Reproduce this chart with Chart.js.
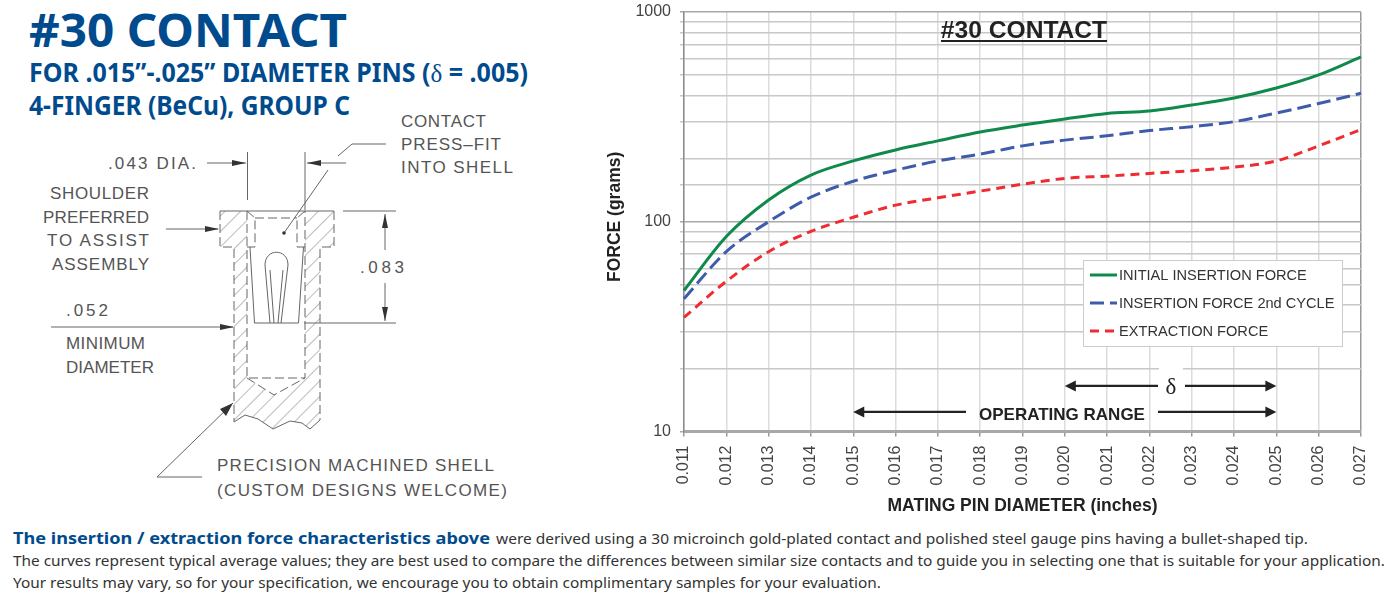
<!DOCTYPE html>
<html>
<head>
<meta charset="utf-8">
<title>#30 CONTACT</title>
<script src="https://cdn.jsdelivr.net/npm/chart.js@4"></script>
<style>
  html, body { margin: 0; padding: 0; background: #fff; }
  #page { position: relative; width: 1393px; height: 595px; overflow: hidden; }
  #art { position: absolute; left: 0; top: 0; }
  #plot { position: absolute; left: 600px; top: 0; }
  .head { font-family: "Noto Sans"; font-weight: 700; fill: #004b8d; }
  .note { font-family: "Noto Sans"; fill: #333; font-size: 15px; }
  .dim { font-family: "Liberation Sans"; fill: #555; font-size: 17px; }
  .l { fill: none; stroke: #666; stroke-width: 1; }
  .d { fill: none; stroke: #666; stroke-width: 1; stroke-dasharray: 9 4; }
  .a { fill: #333; stroke: none; }
</style>
</head>
<body>
<div id="page">
<svg id="art" width="1393" height="595" xmlns="http://www.w3.org/2000/svg">
  <defs>
    <pattern id="hatch" width="11" height="11" patternUnits="userSpaceOnUse" patternTransform="rotate(45)">
      <line x1="0" y1="0" x2="0" y2="11" stroke="#777" stroke-width="1"/>
    </pattern>
  </defs>

  <!-- heading -->
  <text class="head" x="29" y="47" font-size="46" textLength="318" lengthAdjust="spacingAndGlyphs">#30 CONTACT</text>
  <text class="head" x="29" y="82" font-size="26" textLength="499" lengthAdjust="spacingAndGlyphs">FOR .015”-.025” DIAMETER PINS (<tspan font-family="Liberation Serif" font-weight="400">δ</tspan> = .005)</text>
  <text class="head" x="29" y="115" font-size="26" textLength="321" lengthAdjust="spacingAndGlyphs">4-FINGER (BeCu), GROUP C</text>

  <!-- contact drawing -->
  <path fill="url(#hatch)" d="M220 211H247V378L274 395L305 378V211H334V247H320V420L310 429L302 423L290 421L273 429L258 419L245 415L234 422V247H220Z"/>
  <path class="l" d="M220 211H334"/>
  <path class="d" d="M220 211V247H234V422M334 211V247H320V420M247 211V378H305V211M247 378L274 395L305 378"/>
  <path class="l" d="M234 422L245 415L258 419L273 429L290 421L302 423L310 429L320 420"/>
  <path class="d" d="M255 218H297M247 211L255 218V247H247M305 211L297 218V247H305"/>
  <path class="l" d="M250 247L254.5 323H298.5L303.5 247"/>
  <path class="l" d="M270 323L265 265C265 248 288 248 288 265L281 323M274 323L270 270M278 323L283 270"/>

  <!-- dimension lines -->
  <path class="l" d="M247.5 152V200M305 152V210M207 163H246M346 163H307M386 144H352L338 156M328 170L284 233"/>
  <path class="l" d="M343 211H396M304 323H396M385 214V250M385 283V321"/>
  <path class="l" d="M166 229H218M51 327H233M202 477H157L233 403"/>
  <path class="a" d="M246 163L232 160V166ZM307 163L321 160V166ZM385 214L382 228H388ZM385 321L382 307H388ZM219 229L205 226V232ZM234 327L220 324V330ZM233 403L220 409L226 416Z"/>
  <circle class="a" cx="284" cy="233" r="1.8"/>

  <text class="dim" x="108" y="169" textLength="88">.043 DIA.</text>
  <text class="dim" x="50" y="199" textLength="99">SHOULDER</text>
  <text class="dim" x="43" y="223" textLength="106">PREFERRED</text>
  <text class="dim" x="47" y="246" textLength="102">TO ASSIST</text>
  <text class="dim" x="52" y="270" textLength="97">ASSEMBLY</text>
  <text class="dim" x="401" y="127" textLength="85">CONTACT</text>
  <text class="dim" x="401" y="150" textLength="100">PRESS–FIT</text>
  <text class="dim" x="401" y="173" textLength="112">INTO SHELL</text>
  <text class="dim" x="360" y="273" textLength="44">.083</text>
  <text class="dim" x="66" y="316" textLength="42">.052</text>
  <text class="dim" x="66" y="349" textLength="79">MINIMUM</text>
  <text class="dim" x="66" y="373" textLength="88">DIAMETER</text>
  <text class="dim" x="217" y="471" textLength="277">PRECISION MACHINED SHELL</text>
  <text class="dim" x="217" y="496" textLength="290">(CUSTOM DESIGNS WELCOME)</text>

  <!-- footnote -->
  <text class="head" x="13" y="544" font-size="16" textLength="477" lengthAdjust="spacingAndGlyphs">The insertion / extraction force characteristics above</text>
  <text class="note" x="496" y="544" textLength="812" lengthAdjust="spacingAndGlyphs">were derived using a 30 microinch gold-plated contact and polished steel gauge pins having a bullet-shaped tip.</text>
  <text class="note" x="13" y="566" textLength="1372" lengthAdjust="spacingAndGlyphs">The curves represent typical average values; they are best used to compare the differences between similar size contacts and to guide you in selecting one that is suitable for your application.</text>
  <text class="note" x="13" y="588" textLength="868" lengthAdjust="spacingAndGlyphs">Your results may vary, so for your specification, we encourage you to obtain complimentary samples for your evaluation.</text>
</svg>
<canvas id="plot" width="793" height="520"></canvas>
</div>

<script>
// * chart data
const pinDiameters = ["0.011", "0.012", "0.013", "0.014", "0.015", "0.016", "0.017", "0.018", "0.019", "0.020", "0.021", "0.022", "0.023", "0.024", "0.025", "0.026", "0.027"];
const initialInsertion = [47, 85, 127, 167, 195, 220, 243, 268, 289, 309, 328, 337, 360, 389, 434, 501, 611];
const secondCycle = [43, 72, 100, 131, 156, 176, 195, 210, 230, 245, 257, 272, 284, 300, 330, 366, 410];
const extraction = [35, 52, 72, 90, 105, 120, 130, 140, 151, 161, 165, 170, 175, 182, 195, 230, 275];
const yTickLabels = [10, 100, 1000];

const operatingRange = ["0.015", "0.025"];
const deltaRange = ["0.020", "0.025"];

const font = "Liberation Sans";

function drawArrow(ctx, from, to, y) {
  const dir = to > from ? 1 : -1;
  ctx.beginPath();
  ctx.moveTo(from, y);
  ctx.lineTo(to - dir * 8, y);
  ctx.stroke();
  ctx.beginPath();
  ctx.moveTo(to, y);
  ctx.lineTo(to - dir * 11, y - 5.5);
  ctx.lineTo(to - dir * 11, y + 5.5);
  ctx.closePath();
  ctx.fill();
}

// * title, range arrows and legend box sit inside the plot area
const notes = {
  id: "notes",
  afterDatasetsDraw(chart) {
    const { ctx, scales } = chart;
    const xOf = (label) => scales.x.getPixelForValue(pinDiameters.indexOf(label));
    ctx.save();

    // title
    const midX = 424;
    ctx.fillStyle = "#222";
    ctx.font = `bold 24.6px "${font}"`;
    ctx.textAlign = "center";
    ctx.textBaseline = "alphabetic";
    ctx.fillText("#30 CONTACT", midX, 38);
    ctx.fillRect(341, 40, 166, 2);

    // delta arrow
    ctx.strokeStyle = "#222";
    ctx.lineWidth = 2.2;
    const deltaY = scales.y.getPixelForValue(16.5);
    const deltaMid = 571;
    ctx.fillStyle = "#fff";
    ctx.fillRect(deltaMid - 12, deltaY - 20, 24, 32);
    ctx.fillStyle = "#222";
    drawArrow(ctx, deltaMid - 13, xOf(deltaRange[0]), deltaY);
    drawArrow(ctx, deltaMid + 14, xOf(deltaRange[1]), deltaY);
    ctx.font = `23px "Liberation Serif"`;
    ctx.fillText("δ", deltaMid, deltaY + 8);

    // operating range arrow
    const rangeY = scales.y.getPixelForValue(12.4);
    drawArrow(ctx, 366, xOf(operatingRange[0]), rangeY);
    drawArrow(ctx, 558, xOf(operatingRange[1]), rangeY);
    ctx.font = `bold 17px "${font}"`;
    ctx.fillText("OPERATING RANGE", 462, rangeY + 8);

    // legend
    const box = { x: 483, y: 260, w: 259, h: 86 };
    ctx.fillStyle = "#fff";
    ctx.strokeStyle = "#ccc";
    ctx.lineWidth = 1;
    ctx.fillRect(box.x, box.y, box.w, box.h);
    ctx.strokeRect(box.x + 0.5, box.y + 0.5, box.w, box.h);
    ctx.font = `14.6px "${font}"`;
    ctx.textAlign = "left";
    ctx.textBaseline = "middle";
    chart.data.datasets.forEach((set, i) => {
      const y = box.y + 15 + i * 28;
      ctx.strokeStyle = set.borderColor;
      ctx.lineWidth = 3;
      ctx.setLineDash(set.borderDash || []);
      ctx.beginPath();
      ctx.moveTo(box.x + 7, y);
      ctx.lineTo(box.x + 34, y);
      ctx.stroke();
      ctx.setLineDash([]);
      ctx.fillStyle = "#333";
      ctx.fillText(set.label, box.x + 36, y + 1);
    });
    ctx.restore();
  },
};

let config = {
  type: "line",
  data: {
    labels: pinDiameters,
    datasets: [
      { label: "INITIAL INSERTION FORCE", data: initialInsertion, borderColor: "#0f8a4b" },
      { label: "INSERTION FORCE 2nd CYCLE", data: secondCycle, borderColor: "#3f5cab", borderDash: [14, 6] },
      { label: "EXTRACTION FORCE", data: extraction, borderColor: "#ee2c32", borderDash: [9, 6] },
    ],
  },
  options: {
    responsive: false,
    animation: false,
    layout: { autoPadding: false, padding: { top: 12, right: 32 } },
    elements: {
      point: { radius: 0 },
      line: { borderWidth: 3, cubicInterpolationMode: "monotone", borderCapStyle: "butt" },
    },
    plugins: {
      legend: { display: false },
      tooltip: { enabled: false },
    },
    scales: {
      x: {
        type: "category",
        offset: false,
        afterFit: (scale) => { scale.height = 88.5; },
        grid: {
          color: (c) => (c.index === pinDiameters.length - 1 ? "#999" : "#dcdcdc"),
          lineWidth: 1.5,
          tickLength: 5,
          tickColor: "#999",
        },
        border: { color: "#a8a8a8", width: 3 },
        ticks: {
          autoSkip: false,
          minRotation: 90,
          maxRotation: 90,
          padding: 9,
          color: "#444",
          font: { family: font, size: 16 },
        },
        title: {
          display: true,
          text: "MATING PIN DIAMETER (inches)",
          color: "#222",
          font: { family: font, size: 17.5, weight: "bold" },
          padding: { top: 0, bottom: 3 },
        },
      },
      y: {
        type: "logarithmic",
        min: 10,
        max: 1000,
        afterFit: (scale) => {
          scale.width = 84;
          scale.paddingTop = 0;
          scale.paddingBottom = 0;
        },
        grid: {
          color: (c) => (yTickLabels.includes(c.tick.value) ? "#a8a8a8" : "#c8c8c8"),
          lineWidth: 1.5,
          tickLength: 4,
        },
        border: { color: "#8a8a8a", width: 1.5 },
        ticks: {
          autoSkip: false,
          padding: 9,
          color: "#444",
          font: { family: font, size: 16 },
          callback: (value) => (yTickLabels.includes(value) ? String(value) : ""),
        },
        title: {
          display: true,
          text: "  FORCE (grams)",
          color: "#222",
          font: { family: font, size: 17.5, weight: "bold" },
          padding: { top: 5, bottom: 0 },
        },
      },
    },
  },
  plugins: [notes],
};

let chart = new Chart("plot", config);
</script>
</body>
</html>
